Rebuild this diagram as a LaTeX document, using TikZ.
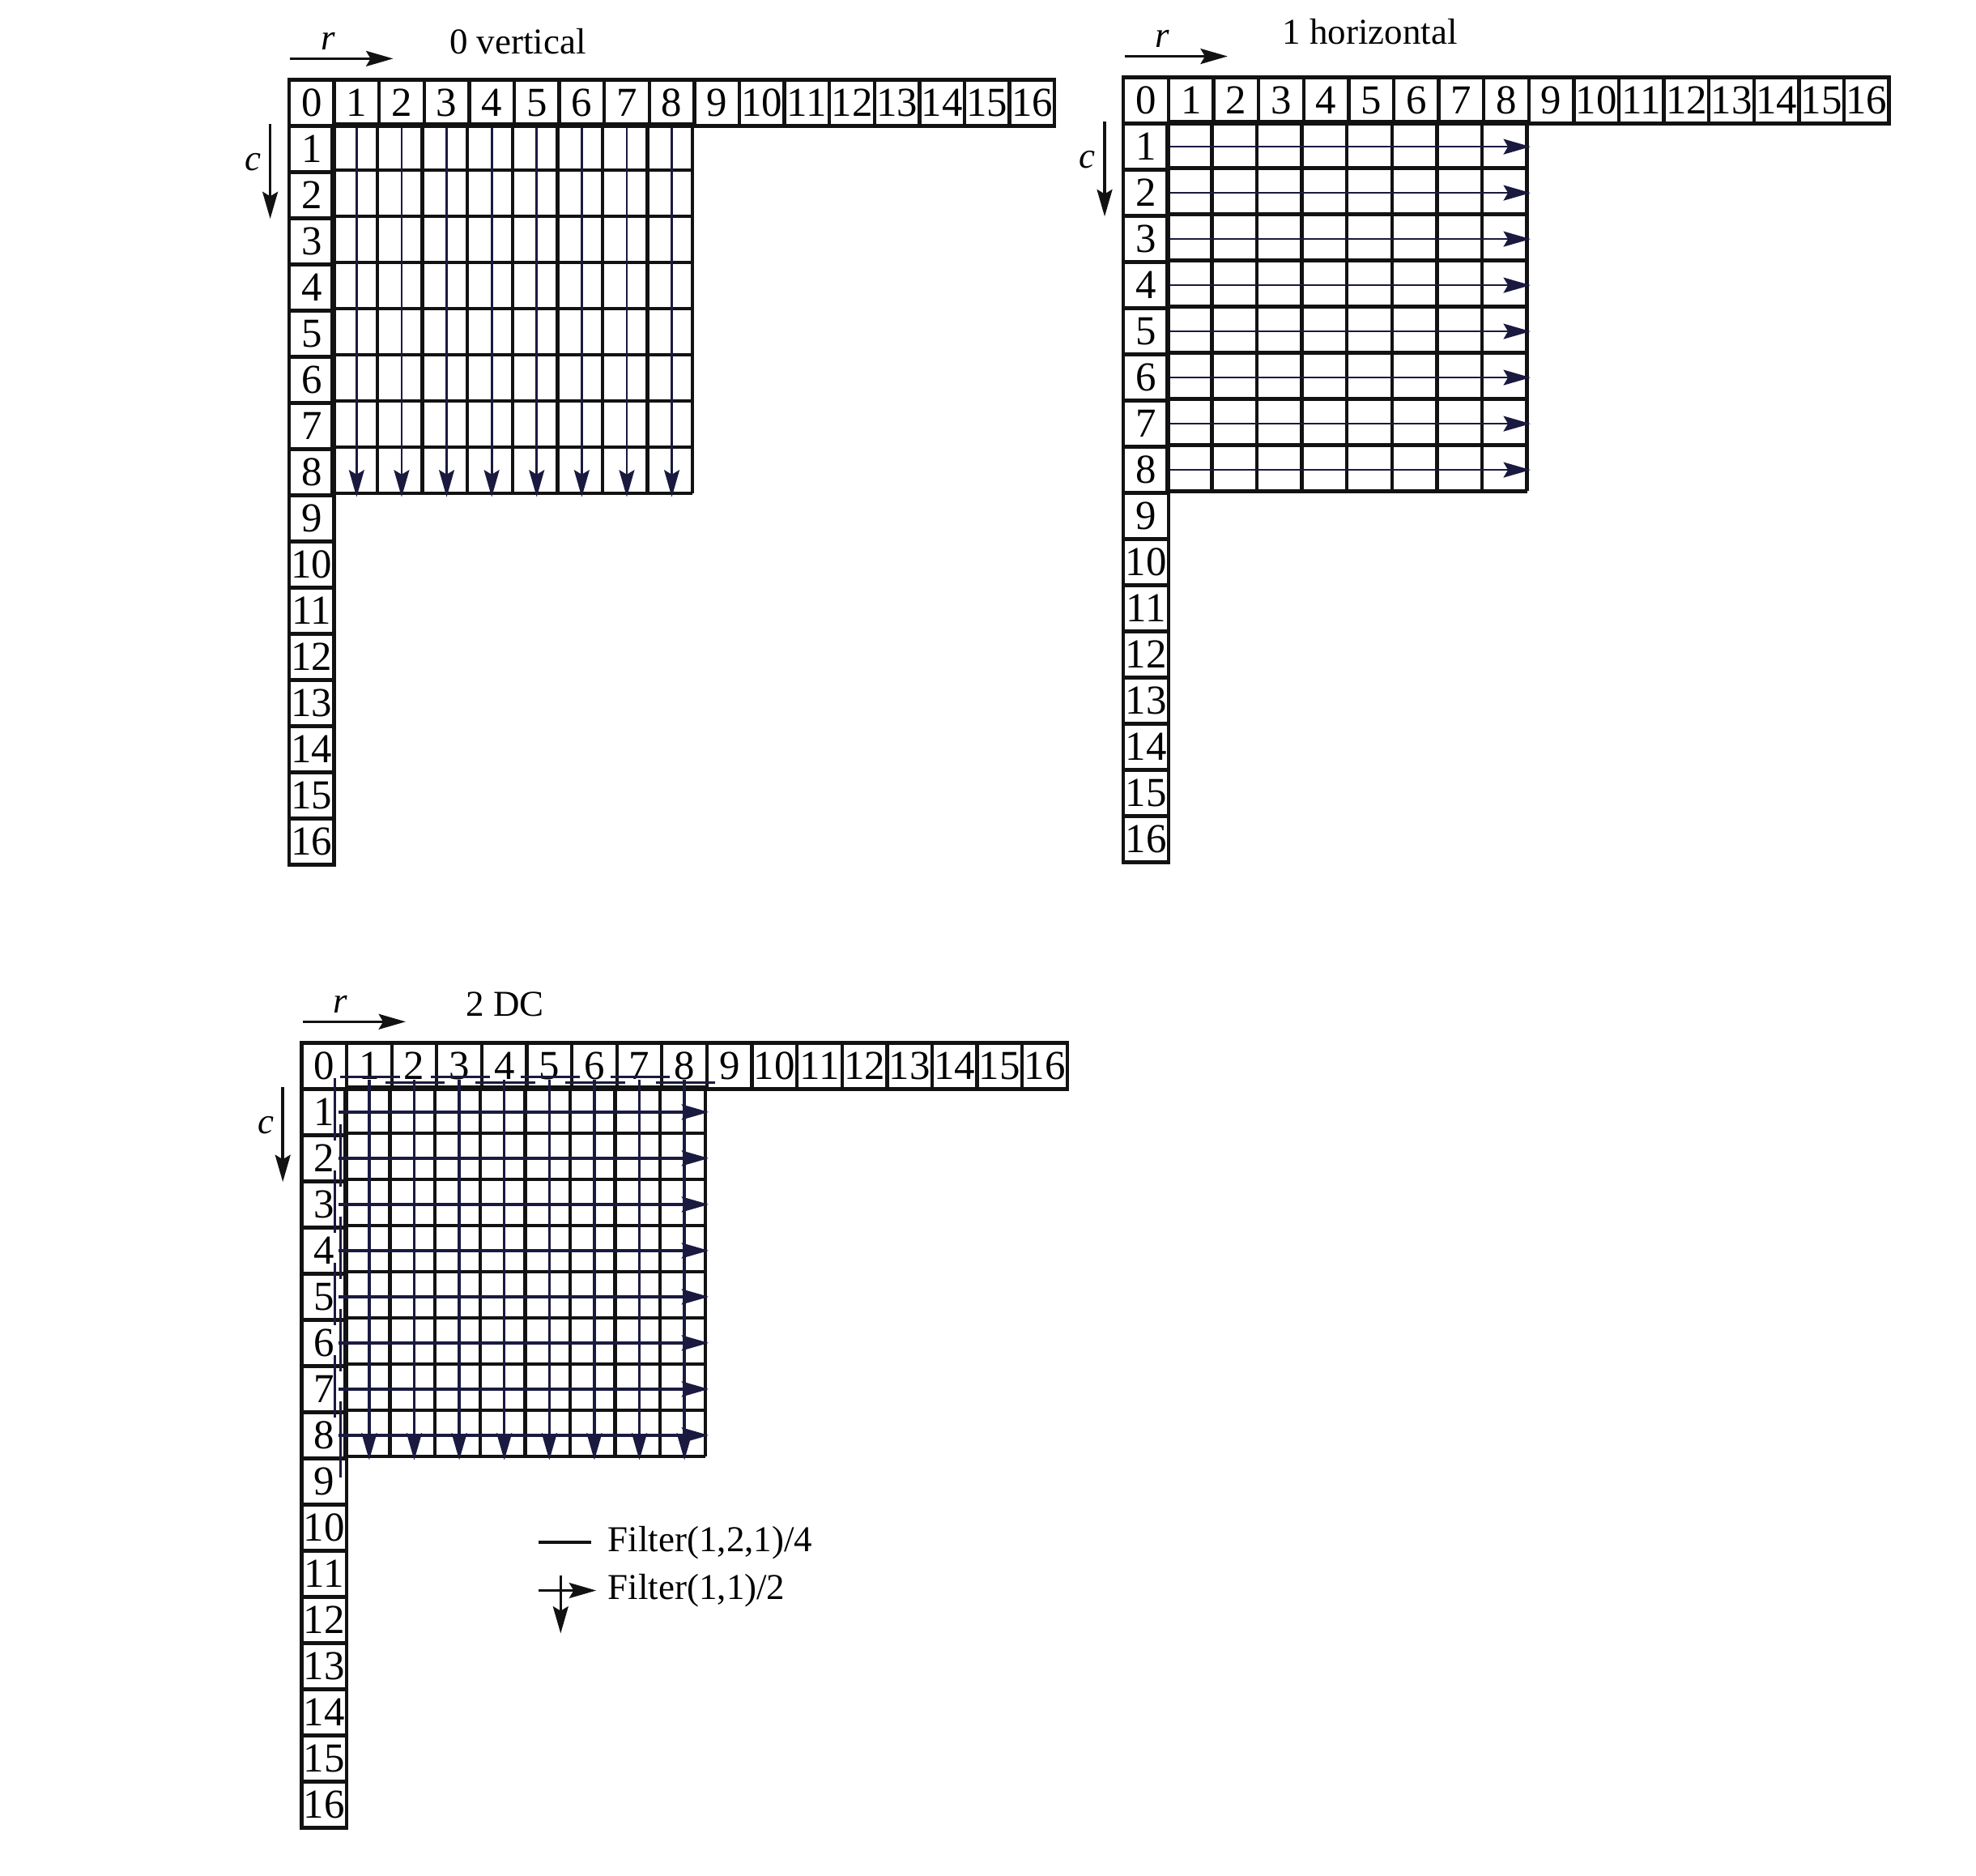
\documentclass[tikz,border=0pt]{standalone}
\usepackage{fontspec}
\setmainfont{Liberation Serif}
\usetikzlibrary{arrows.meta,positioning,calc}
\definecolor{GridInk}{HTML}{121212}
\definecolor{FlowInk}{HTML}{1A1A40}
\tikzset{>={Stealth[length=6mm,width=3.4mm,inset=1mm]},
 every node/.style={font=\fontsize{23}{26}\selectfont},
 cellbox/.style={draw=GridInk,line width=2.2pt,minimum width=1cm,minimum height=1.025cm,
  inner sep=0pt,anchor=north west,font=\fontsize{26}{28}\selectfont},
 gridrule/.style={draw=GridInk,line width=2.2pt},
 flow/.style={draw=FlowInk,line width=1.4pt,->},
 filterbar/.style={draw=FlowInk,line width=1.6pt},
 axis/.style={draw=GridInk,line width=1.8pt,->}}
\begin{document}
\begin{tikzpicture}[x=1cm,y=-1.025cm]
\useasboundingbox (0,0) rectangle (43.88,40.63);
% three panels: header row, first column, 8x8 block
\foreach \p/\px/\py/\ttl/\tx/\ty in {V/6.38/1.69/0 vertical/5.12/-.79,
  H/24.91/1.64/1 horizontal/5.51/-.96,D/6.66/22.55/2 DC/4.56/-.79}{
 \begin{scope}[shift={(\px,\py)}]
 \foreach \i in {0,...,16} \node[cellbox] (\p-r\i) at (\i,0) {\i};
 \foreach \j in {1,...,16} \node[cellbox] (\p-c\j) at (0,\j) {\j};
 \foreach \k in {1,...,9}{\draw[gridrule] (\k,1)--(\k,9);\draw[gridrule] (1,\k)--(9,\k);}
 \node (\p-title) at (\tx,\ty) {\ttl};
 \node (\p-rlab) at (.9,-.8) {\textit{r}};
 \node (\p-clab) at (-.76,1.82) {\textit{c}};
 \coordinate (\p-ra) at (.06,-.42);\coordinate (\p-rb) at (2.35,-.42);
 \coordinate (\p-ca) at (-.38,1.0);\coordinate (\p-cb) at (-.38,3.05);
 \draw[axis] (\p-ra)--(\p-rb);
 \draw[axis] (\p-ca)--(\p-cb);
 \end{scope}}
% 0 vertical
\foreach \k in {1,...,8} \draw[flow] (V-r\k.south) -- (V-r\k.south |- V-c8.south);
% 1 horizontal
\foreach \j in {1,...,8} \draw[flow] (H-c\j.east) -- (H-c\j.east -| H-r8.east);
% 2 DC
\begin{scope}[shift={(6.66,22.55)}]
\foreach \m in {1,...,8}{
 \pgfmathsetmacro\off{isodd(\m)?.78:.9}
 \pgfmathsetmacro\yend{\m==8?9.45:\m+1.15}
 \draw[filterbar] (\m-.1,\off)--(\m+1.22,\off);
 \draw[filterbar] (\off,\m-.2)--(\off,\yend);}
\end{scope}
\foreach \k in {1,...,8} \draw[flow,line width=1.8pt] ($(D-r\k.south)+(0,-.23)$) -- (D-r\k.south |- D-c8.south);
\foreach \j in {1,...,8} \draw[flow,line width=1.8pt] ($(D-c\j.east)+(-.22,0)$) -- (D-c\j.east -| D-r8.east);
% legend
\begin{scope}[shift={(6.66,22.55)}]
\coordinate (barA) at (5.29,10.85);\coordinate (barB) at (6.47,10.85);
\draw[gridrule] (barA)--(barB);
\node[anchor=west] (legA) at (6.72,10.87) {Filter(1,2,1)/4};
\coordinate (crossL) at (5.29,11.9);\coordinate (crossR) at (6.58,11.9);
\coordinate (crossT) at (5.79,11.57);\coordinate (crossB) at (5.79,12.83);
\draw[axis] (crossL)--(crossR);
\draw[axis] (crossT)--(crossB);
\node[anchor=west] (legB) at (6.72,11.9) {Filter(1,1)/2};
\end{scope}
\end{tikzpicture}
\end{document}
